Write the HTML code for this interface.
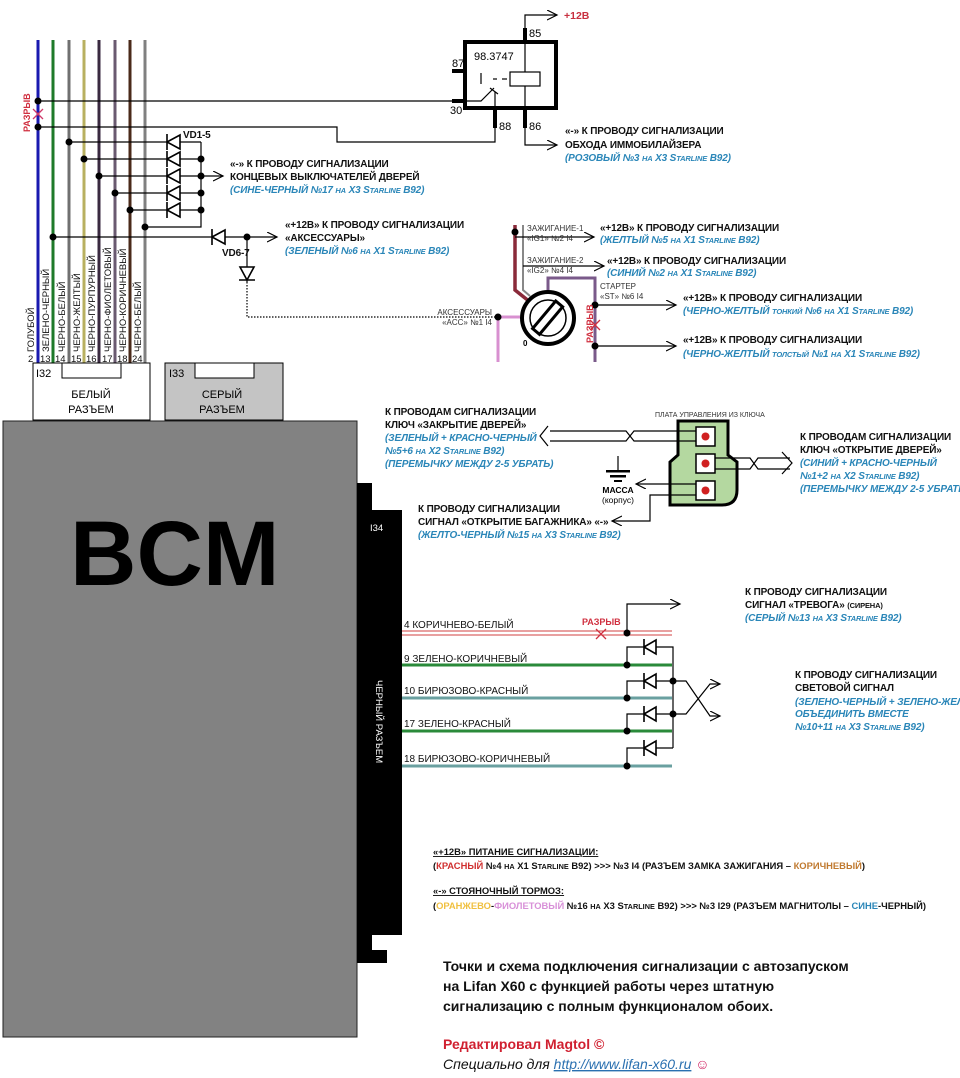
<!DOCTYPE html>
<html><head><meta charset="utf-8"><style>
html,body{margin:0;padding:0;background:#fff}
svg{display:block}
text{font-family:"Liberation Sans","DejaVu Sans",sans-serif}
.b{font-weight:bold;font-size:10px;fill:#111;letter-spacing:-0.15px}
.bl{font-weight:bold;font-style:italic;font-size:10px;fill:#2a86b8;letter-spacing:-0.15px}
.s{font-size:8px;fill:#333}
.w{font-size:10px;fill:#111}
</style></head><body>
<svg width="960" height="1078" viewBox="0 0 960 1078" xmlns="http://www.w3.org/2000/svg">
<defs>
<marker id="ar" markerWidth="12" markerHeight="12" refX="10" refY="5" orient="auto" markerUnits="userSpaceOnUse"><path d="M0,0 L10,5 L0,10" fill="none" stroke="#000" stroke-width="1.2"/></marker>
</defs>
<g stroke-width="3">
<line x1="38" y1="40" x2="38" y2="363" stroke="#1a1ab0"/>
<line x1="53" y1="40" x2="53" y2="363" stroke="#1e7a2a"/>
<line x1="69" y1="40" x2="69" y2="363" stroke="#707070"/>
<line x1="84" y1="40" x2="84" y2="363" stroke="#b8b060"/>
<line x1="99" y1="40" x2="99" y2="363" stroke="#3a2a40"/>
<line x1="115" y1="40" x2="115" y2="363" stroke="#6a5a70"/>
<line x1="130" y1="40" x2="130" y2="363" stroke="#4a2a1a"/>
<line x1="145" y1="40" x2="145" y2="363" stroke="#808080"/>
</g>
<g fill="none" stroke="#000" stroke-width="1.2">
<polyline points="38,101 465,101"/>
<polyline points="38,127 337,127 337,142 495,142 495,128"/>
<line x1="69" y1="142" x2="201" y2="142"/>
<line x1="84" y1="159" x2="201" y2="159"/>
<line x1="99" y1="176" x2="201" y2="176"/>
<line x1="115" y1="193" x2="201" y2="193"/>
<line x1="130" y1="210" x2="201" y2="210"/>
<polyline points="145,227 201,227 201,142"/>
<line x1="201" y1="176" x2="223" y2="176" marker-end="url(#ar)"/>
<line x1="53" y1="237" x2="277" y2="237" marker-end="url(#ar)"/>
<line x1="247" y1="237" x2="247" y2="282"/>
<polyline points="247,282 247,317 498,317" stroke-dasharray="1.5,1.5"/>
</g>
<g fill="#fff" stroke="#000" stroke-width="1.6">
<path d="M167,142 L180,135 L180,149 Z M167,134 V150"/>
<path d="M167,159 L180,152 L180,166 Z M167,151 V167"/>
<path d="M167,176 L180,169 L180,183 Z M167,168 V184"/>
<path d="M167,193 L180,186 L180,200 Z M167,185 V201"/>
<path d="M167,210 L180,203 L180,217 Z M167,202 V218"/>
<path d="M212,237 L225,230 L225,244 Z M212,229 V245"/>
<path d="M247,280 L240,267 L254,267 Z M239,280 H255"/>
</g>
<g fill="#000">
<circle cx="38" cy="101" r="3.5"/><circle cx="38" cy="127" r="3.5"/>
<circle cx="69" cy="142" r="3.5"/><circle cx="84" cy="159" r="3.5"/><circle cx="99" cy="176" r="3.5"/><circle cx="115" cy="193" r="3.5"/><circle cx="130" cy="210" r="3.5"/><circle cx="145" cy="227" r="3.5"/>
<circle cx="201" cy="159" r="3.5"/><circle cx="201" cy="176" r="3.5"/><circle cx="201" cy="193" r="3.5"/><circle cx="201" cy="210" r="3.5"/>
<circle cx="53" cy="237" r="3.5"/><circle cx="247" cy="237" r="3.5"/>
</g>
<path d="M33,109 L43,119 M43,109 L33,119" stroke="#d03a6a" stroke-width="1.3"/>
<text x="30" y="132" transform="rotate(-90 30 132)" font-weight="bold" font-size="9" fill="#d03040">РАЗРЫВ</text>
<text x="183" y="138" class="b" font-size="9">VD1-5</text>
<text x="222" y="256" class="b" font-size="9">VD6-7</text>
<text x="230" y="167" class="b">«-» К ПРОВОДУ СИГНАЛИЗАЦИИ</text>
<text x="230" y="180" class="b">КОНЦЕВЫХ ВЫКЛЮЧАТЕЛЕЙ ДВЕРЕЙ</text>
<text x="230" y="193" class="bl">(СИНЕ-ЧЕРНЫЙ №17 <tspan font-size="7.5">НА</tspan> X3 S<tspan font-size="7.5">TARLINE</tspan> B92)</text>
<text x="285" y="228" class="b">«+12В» К ПРОВОДУ СИГНАЛИЗАЦИИ</text>
<text x="285" y="241" class="b">«АКСЕССУАРЫ»</text>
<text x="285" y="254" class="bl">(ЗЕЛЕНЫЙ №6 <tspan font-size="7.5">НА</tspan> X1 S<tspan font-size="7.5">TARLINE</tspan> B92)</text>
<g font-size="9.5" fill="#111">
<text transform="translate(34,352) rotate(-90)">ГОЛУБОЙ</text>
<text transform="translate(49,352) rotate(-90)">ЗЕЛЕНО-ЧЕРНЫЙ</text>
<text transform="translate(65,352) rotate(-90)">ЧЕРНО-БЕЛЫЙ</text>
<text transform="translate(80,352) rotate(-90)">ЧЕРНО-ЖЕЛТЫЙ</text>
<text transform="translate(95,352) rotate(-90)">ЧЕРНО-ПУРПУРНЫЙ</text>
<text transform="translate(111,352) rotate(-90)">ЧЕРНО-ФИОЛЕТОВЫЙ</text>
<text transform="translate(126,352) rotate(-90)">ЧЕРНО-КОРИЧНЕВЫЙ</text>
<text transform="translate(141,352) rotate(-90)">ЧЕРНО-БЕЛЫЙ</text>
<text x="28" y="362">2</text><text x="40" y="362">13</text><text x="55" y="362">14</text><text x="71" y="362">15</text><text x="86" y="362">16</text><text x="102" y="362">17</text><text x="117" y="362">18</text><text x="132" y="362">24</text>
</g>
<rect x="33" y="363" width="117" height="57" fill="#fff" stroke="#000" stroke-width="1"/>
<rect x="62" y="363" width="59" height="15" fill="#fff" stroke="#000" stroke-width="1"/>
<text x="36" y="377" font-size="11">I32</text>
<text x="91" y="398" font-size="11" text-anchor="middle">БЕЛЫЙ</text>
<text x="91" y="413" font-size="11" text-anchor="middle">РАЗЪЕМ</text>
<rect x="165" y="363" width="118" height="57" fill="#c4c4c4" stroke="#000" stroke-width="1"/>
<rect x="195" y="363" width="59" height="15" fill="#fff" stroke="#000" stroke-width="1"/>
<text x="169" y="377" font-size="11">I33</text>
<text x="222" y="398" font-size="11" text-anchor="middle">СЕРЫЙ</text>
<text x="222" y="413" font-size="11" text-anchor="middle">РАЗЪЕМ</text>
<rect x="3" y="421" width="354" height="616" fill="#828282" stroke="#222" stroke-width="1"/>
<text x="70" y="585" font-weight="bold" font-size="92" fill="#000">BCM</text>
<path d="M357,483 H372 V510 H402 V935 H372 V950 H387 V963 H357 Z" fill="#000"/>
<text x="370" y="531" font-size="9.5" fill="#fff">I34</text>
<text transform="translate(376,680) rotate(90)" font-size="9.5" fill="#fff">ЧЕРНЫЙ РАЗЪЕМ</text>
<rect x="465" y="42" width="91" height="66" fill="none" stroke="#000" stroke-width="4"/>
<g stroke="#000" stroke-width="4"><line x1="525" y1="28" x2="525" y2="42"/><line x1="452" y1="71" x2="465" y2="71"/><line x1="452" y1="101" x2="465" y2="101"/><line x1="495" y1="108" x2="495" y2="128"/><line x1="525" y1="108" x2="525" y2="128"/></g>
<g fill="none" stroke="#000" stroke-width="1.2">
<polyline points="525,28 525,15 557,15" marker-end="url(#ar)"/>
<polyline points="525,128 525,145 557,145" marker-end="url(#ar)"/>
<line x1="525" y1="42" x2="525" y2="108"/>
<rect x="510" y="72" width="30" height="14" fill="#fff"/>
<polyline points="481,73 481,84"/>
<polyline points="467,101 481,101 494,88"/>
<line x1="490" y1="88" x2="498" y2="94"/>
<line x1="495" y1="92" x2="495" y2="108"/>
<line x1="493" y1="79" x2="497" y2="79"/><line x1="502" y1="79" x2="507" y2="79"/>
</g>
<text x="474" y="60" font-size="11">98.3747</text>
<text x="452" y="67" font-size="11">87</text><text x="450" y="114" font-size="11">30</text>
<text x="529" y="37" font-size="11">85</text><text x="499" y="130" font-size="11">88</text><text x="529" y="130" font-size="11">86</text>
<text x="564" y="19" font-weight="bold" font-size="10.5" fill="#c83040">+12В</text>
<text x="565" y="134" class="b">«-» К ПРОВОДУ СИГНАЛИЗАЦИИ</text>
<text x="565" y="148" class="b">ОБХОДА ИММОБИЛАЙЗЕРА</text>
<text x="565" y="161" class="bl">(РОЗОВЫЙ №3 <tspan font-size="7.5">НА</tspan> X3 S<tspan font-size="7.5">TARLINE</tspan> B92)</text>
<polyline points="515,225 515,290 530,302" fill="none" stroke="#8a2a3a" stroke-width="3.5"/>
<polyline points="523,225 523,290 530,296" fill="none" stroke="#888" stroke-width="2"/>
<polyline points="548,292 548,278 595,278 595,362" fill="none" stroke="#7a5a8a" stroke-width="3"/>
<polyline points="498,317 520,317" fill="none" stroke="#d890d0" stroke-width="3"/>
<line x1="498" y1="317" x2="498" y2="362" stroke="#d890d0" stroke-width="3"/>
<circle cx="548" cy="318" r="26" fill="#fff" stroke="#000" stroke-width="4"/>
<circle cx="548" cy="318" r="18" fill="none" stroke="#000" stroke-width="1.5"/>
<rect x="543" y="300" width="9" height="36" fill="#fff" stroke="#000" stroke-width="3" transform="rotate(40 548 318)"/>
<g fill="none" stroke="#000" stroke-width="1.2">
<line x1="515" y1="237" x2="594" y2="237" marker-end="url(#ar)"/>
<line x1="523" y1="266" x2="604" y2="266" marker-end="url(#ar)"/>
<line x1="595" y1="305" x2="676" y2="305" marker-end="url(#ar)"/>
<line x1="595" y1="346" x2="676" y2="346" marker-end="url(#ar)"/>
</g>
<g fill="#000"><circle cx="515" cy="232" r="3.5"/><circle cx="498" cy="317" r="3.5"/><circle cx="595" cy="305" r="3.5"/><circle cx="595" cy="346" r="3.5"/></g>
<path d="M590,320 L600,330 M600,320 L590,330" stroke="#d03040" stroke-width="1.3"/>
<text transform="translate(593,343) rotate(-90)" font-weight="bold" font-size="9" fill="#d03040">РАЗРЫВ</text>
<text x="527" y="231" class="s">ЗАЖИГАНИЕ-1</text><text x="527" y="241" class="s">«IG1» №2 I4</text>
<text x="527" y="263" class="s">ЗАЖИГАНИЕ-2</text><text x="527" y="273" class="s">«IG2» №4 I4</text>
<text x="600" y="289" class="s">СТАРТЕР</text><text x="600" y="299" class="s">«ST» №6 I4</text>
<text x="492" y="315" class="s" text-anchor="end">АКСЕССУАРЫ</text><text x="492" y="325" class="s" text-anchor="end">«ACC» №1 I4</text>
<text x="523" y="346" font-size="8" font-weight="bold">0</text>
<text x="600" y="231" class="b">«+12В» К ПРОВОДУ СИГНАЛИЗАЦИИ</text>
<text x="600" y="243" class="bl">(ЖЕЛТЫЙ №5 <tspan font-size="7.5">НА</tspan> X1 S<tspan font-size="7.5">TARLINE</tspan> B92)</text>
<text x="607" y="264" class="b">«+12В» К ПРОВОДУ СИГНАЛИЗАЦИИ</text>
<text x="607" y="276" class="bl">(СИНИЙ №2 <tspan font-size="7.5">НА</tspan> X1 S<tspan font-size="7.5">TARLINE</tspan> B92)</text>
<text x="683" y="301" class="b">«+12В» К ПРОВОДУ СИГНАЛИЗАЦИИ</text>
<text x="683" y="314" class="bl">(ЧЕРНО-ЖЕЛТЫЙ <tspan font-size="7.5">ТОНКИЙ</tspan> №6 <tspan font-size="7.5">НА</tspan> X1 S<tspan font-size="7.5">TARLINE</tspan> B92)</text>
<text x="683" y="343" class="b">«+12В» К ПРОВОДУ СИГНАЛИЗАЦИИ</text>
<text x="683" y="357" class="bl">(ЧЕРНО-ЖЕЛТЫЙ <tspan font-size="7.5">ТОЛСТЫЙ</tspan> №1 <tspan font-size="7.5">НА</tspan> X1 S<tspan font-size="7.5">TARLINE</tspan> B92)</text>
<path d="M678,421 H728 V455 L737,462 V490 Q737,505 722,505 H670 V462 L678,455 Z" fill="#b4d8a0" stroke="#000" stroke-width="3"/>
<g fill="#fff" stroke="#000" stroke-width="1.5">
<rect x="696" y="427" width="19" height="19"/><rect x="696" y="454" width="19" height="19"/><rect x="696" y="481" width="19" height="19"/>
</g>
<g fill="#d02020"><circle cx="705.5" cy="436.5" r="4"/><circle cx="705.5" cy="463.5" r="4"/><circle cx="705.5" cy="490.5" r="4"/></g>
<g fill="none" stroke="#000" stroke-width="1.2">
<polyline points="696,431 634,431 626,441 550,441"/>
<polyline points="696,441 634,441 626,431 550,431"/>
<polyline points="548,426 540,436 548,446"/>
<polyline points="715,458 750,458 758,469 790,469"/>
<polyline points="715,469 750,469 758,458 790,458"/>
<polyline points="782,452 792,463 782,474"/>
<line x1="696" y1="484" x2="636" y2="484" marker-end="url(#ar)"/>
<polyline points="696,495 650,495 650,521 612,521" marker-end="url(#ar)"/>
<line x1="618" y1="456" x2="618" y2="470"/>
</g>
<rect x="606" y="470" width="24" height="2.5" fill="#000"/><rect x="610" y="475" width="16" height="2.5" fill="#000"/><rect x="614" y="480" width="8" height="2" fill="#000"/>
<text x="655" y="417" font-size="7" fill="#333">ПЛАТА УПРАВЛЕНИЯ ИЗ КЛЮЧА</text>
<text x="618" y="493" font-size="8.5" font-weight="bold" text-anchor="middle">МАССА</text>
<text x="618" y="503" font-size="8.5" text-anchor="middle">(корпус)</text>
<text x="385" y="415" class="b">К ПРОВОДАМ СИГНАЛИЗАЦИИ</text>
<text x="385" y="428" class="b">КЛЮЧ «ЗАКРЫТИЕ ДВЕРЕЙ»</text>
<text x="385" y="441" class="bl">(ЗЕЛЕНЫЙ + КРАСНО-ЧЕРНЫЙ</text>
<text x="385" y="454" class="bl">№5+6 <tspan font-size="7.5">НА</tspan> X2 S<tspan font-size="7.5">TARLINE</tspan> B92)</text>
<text x="385" y="467" class="bl" font-size="7.5">(ПЕРЕМЫЧКУ МЕЖДУ 2-5 УБРАТЬ)</text>
<text x="418" y="512" class="b">К ПРОВОДУ СИГНАЛИЗАЦИИ</text>
<text x="418" y="525" class="b">СИГНАЛ «ОТКРЫТИЕ БАГАЖНИКА» «-»</text>
<text x="418" y="538" class="bl">(ЖЕЛТО-ЧЕРНЫЙ №15 <tspan font-size="7.5">НА</tspan> X3 S<tspan font-size="7.5">TARLINE</tspan> B92)</text>
<text x="800" y="440" class="b">К ПРОВОДАМ СИГНАЛИЗАЦИИ</text>
<text x="800" y="453" class="b">КЛЮЧ «ОТКРЫТИЕ ДВЕРЕЙ»</text>
<text x="800" y="466" class="bl">(СИНИЙ + КРАСНО-ЧЕРНЫЙ</text>
<text x="800" y="479" class="bl">№1+2 <tspan font-size="7.5">НА</tspan> X2 S<tspan font-size="7.5">TARLINE</tspan> B92)</text>
<text x="800" y="492" class="bl" font-size="7.5">(ПЕРЕМЫЧКУ МЕЖДУ 2-5 УБРАТЬ)</text>
<line x1="402" y1="631" x2="672" y2="631" stroke="#d04040" stroke-width="1"/>
<line x1="402" y1="635" x2="672" y2="635" stroke="#d04040" stroke-width="1"/>
<g stroke-width="3">
<line x1="402" y1="665" x2="672" y2="665" stroke="#2a8a3a"/>
<line x1="402" y1="698" x2="672" y2="698" stroke="#6aa0a0"/>
<line x1="402" y1="731" x2="672" y2="731" stroke="#2a8a3a"/>
<line x1="402" y1="766" x2="672" y2="766" stroke="#6aa0a0"/>
</g>
<g fill="none" stroke="#000" stroke-width="1.2">
<polyline points="627,633 627,604 680,604" marker-end="url(#ar)"/>
<polyline points="627,665 627,647 673,647 673,748"/>
<polyline points="627,698 627,681 673,681"/>
<polyline points="627,731 627,714 673,714"/>
<polyline points="627,766 627,748 673,748"/>
<polyline points="673,681 686,681 710,716 720,716" marker-end="url(#ar)"/>
<polyline points="673,714 686,714 710,684 720,684" marker-end="url(#ar)"/>
</g>
<g fill="#fff" stroke="#000" stroke-width="1.6">
<path d="M644,647 L656,640 L656,654 Z M644,639 V655"/>
<path d="M644,681 L656,674 L656,688 Z M644,673 V689"/>
<path d="M644,714 L656,707 L656,721 Z M644,706 V722"/>
<path d="M644,748 L656,741 L656,755 Z M644,740 V756"/>
</g>
<g fill="#000"><circle cx="627" cy="633" r="3.5"/><circle cx="627" cy="665" r="3.5"/><circle cx="627" cy="698" r="3.5"/><circle cx="627" cy="731" r="3.5"/><circle cx="627" cy="766" r="3.5"/><circle cx="673" cy="681" r="3.5"/><circle cx="673" cy="714" r="3.5"/></g>
<path d="M596,629 L606,639 M606,629 L596,639" stroke="#d03040" stroke-width="1.3"/>
<text x="582" y="625" font-weight="bold" font-size="9" fill="#d03040">РАЗРЫВ</text>
<text x="404" y="628" class="w">4   КОРИЧНЕВО-БЕЛЫЙ</text>
<text x="404" y="662" class="w">9   ЗЕЛЕНО-КОРИЧНЕВЫЙ</text>
<text x="404" y="694" class="w">10   БИРЮЗОВО-КРАСНЫЙ</text>
<text x="404" y="727" class="w">17   ЗЕЛЕНО-КРАСНЫЙ</text>
<text x="404" y="762" class="w">18   БИРЮЗОВО-КОРИЧНЕВЫЙ</text>
<text x="745" y="595" class="b">К ПРОВОДУ СИГНАЛИЗАЦИИ</text>
<text x="745" y="608" class="b">СИГНАЛ «ТРЕВОГА» <tspan font-size="7.5">(СИРЕНА)</tspan></text>
<text x="745" y="621" class="bl">(СЕРЫЙ №13 <tspan font-size="7.5">НА</tspan> X3 S<tspan font-size="7.5">TARLINE</tspan> B92)</text>
<text x="795" y="678" class="b">К ПРОВОДУ СИГНАЛИЗАЦИИ</text>
<text x="795" y="691" class="b">СВЕТОВОЙ СИГНАЛ</text>
<text x="795" y="705" class="bl" font-size="7.5">(ЗЕЛЕНО-ЧЕРНЫЙ + ЗЕЛЕНО-ЖЕЛТЫЙ</text>
<text x="795" y="717" class="bl" font-size="7.5">ОБЪЕДИНИТЬ ВМЕСТЕ</text>
<text x="795" y="730" class="bl">№10+11 <tspan font-size="7.5">НА</tspan> X3 S<tspan font-size="7.5">TARLINE</tspan> B92)</text>
<g font-size="9.4" font-weight="bold" fill="#111">
<text x="433" y="855" text-decoration="underline">«+12В» ПИТАНИЕ СИГНАЛИЗАЦИИ:</text>
<text x="433" y="869">(<tspan fill="#d03030">КРАСНЫЙ</tspan> №4 <tspan font-size="7.3">НА</tspan> X1 S<tspan font-size="7.3">TARLINE</tspan> B92) &gt;&gt;&gt; №3 I4 (РАЗЪЕМ ЗАМКА ЗАЖИГАНИЯ – <tspan fill="#c07a30">КОРИЧНЕВЫЙ</tspan>)</text>
<text x="433" y="894" text-decoration="underline">«-» СТОЯНОЧНЫЙ ТОРМОЗ:</text>
<text x="433" y="909">(<tspan fill="#f0c040">ОРАНЖЕВО</tspan>-<tspan fill="#d890d8">ФИОЛЕТОВЫЙ</tspan> №16 <tspan font-size="7.3">НА</tspan> X3 S<tspan font-size="7.3">TARLINE</tspan> B92) &gt;&gt;&gt; №3 I29 (РАЗЪЕМ МАГНИТОЛЫ – <tspan fill="#2a86b8">СИНЕ</tspan>-ЧЕРНЫЙ)</text>
</g>
<g font-size="14" font-weight="bold" fill="#111">
<text x="443" y="971">Точки и схема подключения сигнализации с автозапуском</text>
<text x="443" y="991">на Lifan X60 с функцией работы через штатную</text>
<text x="443" y="1011">сигнализацию с полным функционалом обоих.</text>
<text x="443" y="1049" fill="#d02030">Редактировал Magtol ©</text>
</g>
<text x="443" y="1069" font-size="14" font-style="italic" fill="#111">Специально для <tspan fill="#2a70b0" text-decoration="underline">http://www.lifan-x60.ru</tspan> <tspan fill="#d02060">☺</tspan></text>
</svg>
</body></html>
